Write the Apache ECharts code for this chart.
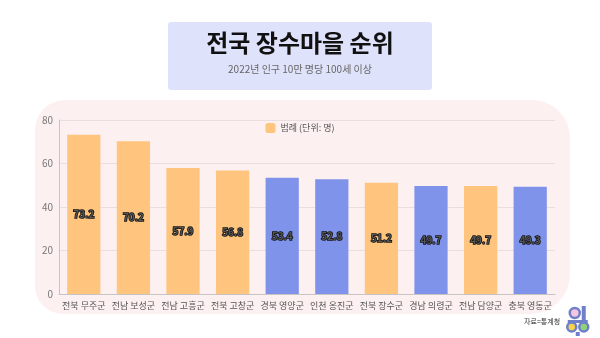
<!DOCTYPE html>
<html>
<head>
<meta charset="utf-8">
<script src="https://cdn.jsdelivr.net/npm/echarts@6/dist/echarts.min.js"></script>
<style>
  html, body { margin: 0; padding: 0; background: #fff; }
  #chart { width: 600px; height: 338px; }
</style>
</head>
<body>
<div id="chart"></div>
<script>
// Regions and their centenarian counts per 100k population (2022)
const regions = ['전북 무주군', '전남 보성군', '전남 고흥군', '전북 고창군', '경북 영양군',
                 '인천 옹진군', '전북 장수군', '경남 의령군', '전남 담양군', '충북 영동군'];
const counts = [73.2, 70.2, 57.9, 56.8, 53.4, 52.8, 51.2, 49.7, 49.7, 49.3];
const barColors = ['#ffc47d', '#ffc47d', '#ffc47d', '#ffc47d', '#7f93eb',
                   '#7f93eb', '#ffc47d', '#7f93eb', '#ffc47d', '#7f93eb'];

const FONT = '"Noto Sans CJK KR", "Noto Sans", sans-serif';
const chart = echarts.init(document.getElementById('chart'));

chart.setOption({
  backgroundColor: '#ffffff',
  animation: false,
  textStyle: { fontFamily: FONT },
  graphic: [
    // soft pink panel behind the plot
    {
      type: 'rect', z: -10,
      shape: { x: 35, y: 100, width: 535, height: 214, r: [30, 38, 40, 28] },
      style: { fill: '#fdf0f0' }
    },
    // heading banner
    {
      type: 'rect', z: -10,
      shape: { x: 168, y: 22, width: 264, height: 68, r: 3 },
      style: { fill: '#dfe2fb' }
    },
    {
      type: 'text', left: 'center', top: 31,
      style: { text: '전국 장수마을 순위', font: 'bold 24px ' + FONT, fill: '#111' }
    },
    {
      type: 'text', left: 'center', top: 64,
      style: { text: '2022년 인구 10만 명당 100세 이상', font: '10px ' + FONT, fill: '#666' }
    },
    {
      type: 'text', left: 524, top: 318,
      style: { text: '자료=통계청', font: '7px ' + FONT, fill: '#333' }
    },
    // small mark in the corner
    {
      type: 'group', left: 566, top: 306,
      children: [
        { type: 'circle', shape: { cx: 9, cy: 8, r: 5 }, style: { fill: '#f4c6e0', stroke: '#6f7fc9', lineWidth: 2.5 } },
        { type: 'rect', shape: { x: 16, y: 1, width: 4, height: 14 }, style: { fill: '#6f7fc9' } },
        { type: 'rect', shape: { x: 2, y: 15, width: 20, height: 3 }, style: { fill: '#6f7fc9' } },
        { type: 'circle', shape: { cx: 6, cy: 22, r: 4.5 }, style: { fill: '#f7d54a', stroke: '#6f7fc9', lineWidth: 2.5 } },
        { type: 'circle', shape: { cx: 18, cy: 22, r: 4.5 }, style: { fill: '#8fd27a', stroke: '#6f7fc9', lineWidth: 2.5 } },
        { type: 'rect', shape: { x: 10, y: 27, width: 4, height: 4 }, style: { fill: '#6f7fc9' } }
      ]
    }
  ],
  legend: {
    top: 118, left: 'center',
    itemWidth: 10, itemHeight: 10,
    textStyle: { fontSize: 9, color: '#555', fontFamily: FONT },
    data: [{ name: '범례 (단위: 명)', itemStyle: { color: '#ffc47d' } }]
  },
  grid: { left: 59, right: 45, top: 120, bottom: 44, containLabel: false },
  xAxis: {
    type: 'category',
    data: regions,
    axisLine: { lineStyle: { color: '#c8c4c4' } },
    axisTick: { show: false },
    axisLabel: { color: '#555', fontSize: 9, margin: 7, interval: 0, fontFamily: FONT }
  },
  yAxis: {
    type: 'value', min: 0, max: 80, interval: 20,
    axisLine: { show: true, lineStyle: { color: '#c8c4c4' } },
    axisLabel: { color: '#777', fontSize: 10, margin: 6, fontFamily: FONT },
    splitLine: { lineStyle: { color: '#e8dede' } }
  },
  series: [{
    name: '범례 (단위: 명)',
    type: 'bar',
    barWidth: '67%',
    data: counts.map((v, i) => ({ value: v, itemStyle: { color: barColors[i] } })),
    label: {
      show: true, position: 'inside',
      fontSize: 10, fontWeight: 'bold',
      color: '#555', textBorderColor: '#111', textBorderWidth: 1.5,
      fontFamily: FONT
    }
  }]
});
</script>
</body>
</html>
